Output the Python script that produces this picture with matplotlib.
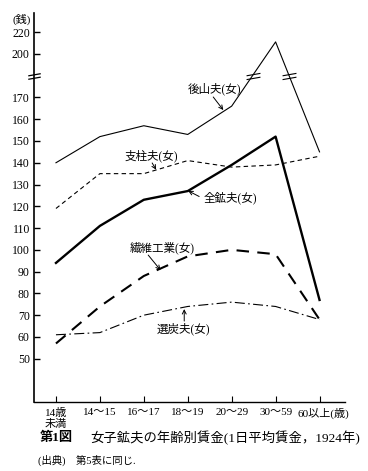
import numpy as np
import matplotlib
matplotlib.use("Agg")
import matplotlib.pyplot as plt
from matplotlib.path import Path
from matplotlib.transforms import ScaledTranslation

plt.rcParams['font.family'] = ['Liberation Serif', 'Noto Sans CJK JP', 'DejaVu Sans']

# age groups
ages = ['14歳\n未満', '14〜15', '16〜17', '18〜19', '20〜29', '30〜59', '60以上(歳)']

# daily wages (銭)
koyama = [140, 152, 157, 153, 166, 211, 145]      # 後山夫(女)
shichu = [119, 135, 135, 141, 138, 139, 143]      # 支柱夫(女)
zenko = [94, 111, 123, 127, 139, 152, 77]         # 全鉱夫(女)
seni = [57, 74, 88, 97, 100, 98, 68]              # 繊維工業(女)
sentan = [61, 62, 70, 74, 76, 74, 68]             # 選炭夫(女)

ticks_low = [50, 60, 70, 80, 90, 100, 110, 120, 130, 140, 150, 160, 170]
ticks_high = [200, 220]
BREAK = 180


def squash(v):
    # above the break the scale is compressed by half
    v = np.asarray(v, dtype=float)
    return np.where(v <= BREAK, v, BREAK + (v - BREAK) / 2)


x = np.arange(len(ages))

fig = plt.figure(figsize=(3.68, 4.71), dpi=100)
ax = fig.add_axes([0.0924, 0.1459, 0.8451, 0.8271])

ax.plot(x, squash(koyama), color='black', lw=0.8)
ax.plot(x, squash(shichu), color='black', lw=0.8, dashes=(4, 3))
ax.plot(x, squash(zenko), color='black', lw=1.7)
ax.plot(x, squash(seni), color='black', lw=1.5, dashes=(6, 4))
ax.plot(x, squash(sentan), color='black', lw=0.8, dashes=(9, 3, 1.5, 3))

# break marks (double slash)
brk = Path([(-1, -0.45), (1, -0.1), (-1, 0.1), (1, 0.45)],
           [Path.MOVETO, Path.LINETO, Path.MOVETO, Path.LINETO])
ky = squash(koyama)
for i in range(len(x) - 1):
    if (ky[i] - BREAK) * (ky[i + 1] - BREAK) < 0:
        t = (BREAK - ky[i]) / (ky[i + 1] - ky[i])
        ax.plot(x[i] + t, BREAK, marker=brk, ms=10, mew=0.8, color='black')

ax.set_xlim(-0.5, 6.58)
ax.set_ylim(30, 208.9)

ax.plot(-0.5, BREAK, marker=brk, ms=9, mew=0.9, color='black', clip_on=False)

for s in ['top', 'right']:
    ax.spines[s].set_visible(False)
ax.spines['left'].set_linewidth(1.2)
ax.spines['bottom'].set_linewidth(1.0)

ax.set_yticks(list(ticks_low) + list(squash(ticks_high)))
ax.set_yticklabels([str(t) for t in ticks_low + ticks_high])
ax.set_xticks(x)
ax.set_xticklabels(ages, linespacing=1.15)
ax.tick_params(axis='y', direction='in', length=4, width=1, pad=3, labelsize=8.5)
ax.tick_params(axis='x', direction='in', length=4, width=0.8, pad=4, labelsize=8)
lbl = ax.get_xticklabels()[-1]
lbl.set_transform(lbl.get_transform() + ScaledTranslation(4 / 100, 0, fig.dpi_scale_trans))

fig.text(22 / 368, 1 - 19 / 471, '(銭)', ha='center', va='center', fontsize=8)

# series labels with arrows
arrow = dict(arrowstyle='->', lw=0.7, color='black', shrinkA=0, shrinkB=0,
             mutation_scale=7)
ax.text(3.62, 173.8, '後山夫(女)', fontsize=8.3, ha='center', va='center')
ax.annotate('', xy=(3.81, 164.2), xytext=(3.58, 170.2), arrowprops=arrow)
ax.text(2.18, 143.1, '支柱夫(女)', fontsize=8.3, ha='center', va='center')
ax.annotate('', xy=(2.28, 136.8), xytext=(2.19, 139.9), arrowprops=arrow)
ax.text(3.35, 123.8, '全鉱夫(女)', fontsize=8.3, ha='left', va='center')
ax.annotate('', xy=(3.01, 127.1), xytext=(3.26, 124.5), arrowprops=arrow)
ax.text(2.41, 100.7, '繊維工業(女)', fontsize=8.3, ha='center', va='center')
ax.annotate('', xy=(2.38, 90.7), xytext=(2.10, 97.6), arrowprops=arrow)
ax.text(2.90, 63.5, '選炭夫(女)', fontsize=8.3, ha='center', va='center')
ax.annotate('', xy=(2.92, 72.8), xytext=(2.92, 67.3), arrowprops=arrow)

fig.text(40 / 368, 1 - 438 / 471, '第1図', fontsize=9.5, fontweight='bold', va='center')
fig.text(90 / 368, 1 - 438 / 471, '女子鉱夫の年齢別賃金(1日平均賃金，1924年)', fontsize=9.6, va='center')
fig.text(38 / 368, 1 - 460 / 471, '(出典)　第5表に同じ.', fontsize=7.5, va='center')

fig.savefig('out.png', dpi=100)
